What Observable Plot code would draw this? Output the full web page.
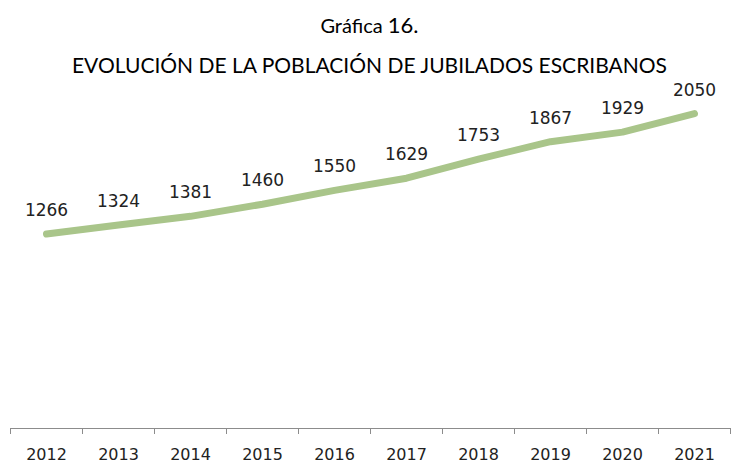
<!DOCTYPE html>
<html>
<head>
<meta charset="utf-8">
<script src="https://cdn.jsdelivr.net/npm/d3@7"></script>
<script src="https://cdn.jsdelivr.net/npm/@observablehq/plot@0.6"></script>
<style>
  html, body { margin: 0; padding: 0; background: #fff; }
  #wrap { width: 731px; height: 463px; position: relative; overflow: hidden; }
  #titles { height: 78px; font-family: Lato, "Open Sans", sans-serif; color: #000; text-align: center; position: relative; }
  #t1 { position: absolute; left: 4px; width: 731px; top: 13px; font-size: 20px; line-height: 24px; }
  #t2 { position: absolute; left: 4px; width: 731px; top: 52px; font-size: 21px; line-height: 26px; }
</style>
</head>
<body>
<div id="wrap">
  <div id="titles">
    <div id="t1">Gráfica <span style="font-size:22px">16.</span></div>
    <div id="t2">EVOLUCIÓN DE LA POBLACIÓN DE JUBILADOS ESCRIBANOS</div>
  </div>
  <div id="chart"></div>
</div>
<script>
const years = [2012, 2013, 2014, 2015, 2016, 2017, 2018, 2019, 2020, 2021];
const jubilados = [1266, 1324, 1381, 1460, 1550, 1629, 1753, 1867, 1929, 2050];
const yearLabels = ["2012", "2013", "2014", "2015", "2016", "2017", "2018", "2019", "2020", "2021"];

const data = years.map((y, i) => ({year: y, value: jubilados[i], label: yearLabels[i]}));
const boundaries = years.map(y => y - 0.5).concat([years[years.length - 1] + 0.5]);

const chart = Plot.plot({
  width: 731,
  height: 385,
  marginLeft: 10,
  marginRight: 1,
  marginTop: 12,
  marginBottom: 35,
  x: {type: "linear", domain: [2011.5, 2021.5], label: null},
  y: {domain: [0, 2200], axis: null, label: null},
  style: {background: "#fff", overflow: "visible"},
  marks: [
    Plot.ruleY([0], {stroke: "#8c8c8c", strokeWidth: 1}),
    Plot.axisX({ticks: boundaries, tickFormat: () => "", tickSize: 6, stroke: "#8c8c8c", strokeOpacity: 1, label: null}),
    Plot.axisX({ticks: years, tickFormat: d => yearLabels[years.indexOf(d)], tickSize: 0, tickPadding: 20,
      fontSize: 16, fontFamily: "DejaVu Sans", fill: "#222", label: null}),
    Plot.line(data, {x: "year", y: "value", stroke: "#a9c58a", strokeWidth: 7,
      strokeLinecap: "round", strokeLinejoin: "round"}),
    Plot.text(data, {x: "year", y: "value", text: d => String(d.value), dy: -18, lineAnchor: "bottom",
      fontSize: 17, fontFamily: "DejaVu Sans", fill: "#222"})
  ]
});
document.getElementById("chart").appendChild(chart);
</script>
</body>
</html>
